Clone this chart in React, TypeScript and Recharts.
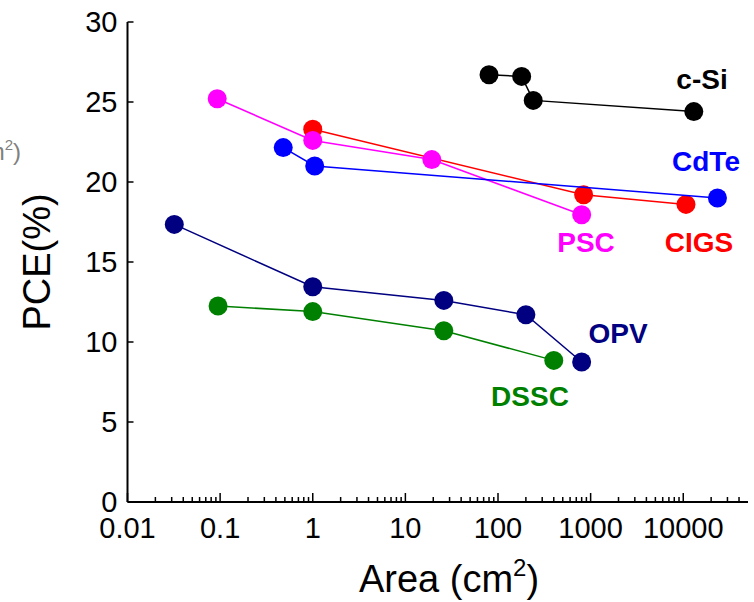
import { Scatter, ScatterChart, XAxis, YAxis } from "recharts";

// PCE vs device area for each PV technology
const cSiArea = [80, 180, 240, 13000];
const cSiPce = [26.7, 26.6, 25.1, 24.4];

const cigsArea = [1, 840, 10700];
const cigsPce = [23.3, 19.2, 18.6];

const pscArea = [0.093, 1, 19.3, 800];
const pscPce = [25.2, 22.6, 21.4, 17.95];

const cdteArea = [0.48, 1.05, 23400];
const cdtePce = [22.15, 21.0, 19.0];

const opvArea = [0.032, 1, 26, 200, 800];
const opvPce = [17.35, 13.45, 12.6, 11.7, 8.75];

const dsscArea = [0.095, 1, 26, 400];
const dsscPce = [12.25, 11.9, 10.7, 8.85];

const xMajorTicks = [0.01, 0.1, 1, 10, 100, 1000, 10000];
const xMinorSteps = [2, 3, 4, 5, 6, 7, 8, 9];
const yTicks = [0, 5, 10, 15, 20, 25, 30];

const FONT = "'Liberation Sans', Arial, Helvetica, sans-serif";
const xDomain = [0.01, 50000];

const toPoints = (xs: number[], ys: number[]) =>
  xs.map((x, i) => ({ area: x, pce: ys[i] }));

const series = [
  { name: "c-Si", color: "#000000", data: toPoints(cSiArea, cSiPce) },
  { name: "CIGS", color: "#ff0000", data: toPoints(cigsArea, cigsPce) },
  { name: "PSC", color: "#ff00ff", data: toPoints(pscArea, pscPce) },
  { name: "CdTe", color: "#0000ff", data: toPoints(cdteArea, cdtePce) },
  { name: "OPV", color: "#000080", data: toPoints(opvArea, opvPce) },
  { name: "DSSC", color: "#008000", data: toPoints(dsscArea, dsscPce) },
];

// majors plus 2..9 of each decade, clipped to the axis range
const xAllTicks = [
  ...xMajorTicks,
  ...xMajorTicks.flatMap((d) =>
    xMinorSteps.map((k) => d * k).filter((v) => v < xDomain[1] * 0.95)
  ),
].sort((a, b) => a - b);

const isMajor = (v: number) => xMajorTicks.some((m) => Math.abs(m - v) < m * 1e-6);

const BottomTick = ({ x, y, payload }: any) => {
  const v = payload.value;
  const major = isMajor(v);
  return (
    <g>
      <line x1={x} x2={x} y1={y} y2={y - (major ? 9 : 5)} stroke="#000" strokeWidth={1.5} />
      {major && (
        <text x={x} y={y + 36} textAnchor="middle" fontSize={29} fontFamily={FONT} fill="#000">
          {String(v)}
        </text>
      )}
    </g>
  );
};

const TopTick = ({ x, y, payload }: any) => {
  const major = isMajor(payload.value);
  return (
    <line x1={x} x2={x} y1={y} y2={y + (major ? 9 : 5)} stroke="#000" strokeWidth={1.5} />
  );
};

const LeftTick = ({ x, y, payload }: any) => (
  <g>
    <line x1={x} x2={x + 6} y1={y} y2={y} stroke="#000" strokeWidth={1.5} />
    <text x={x - 10} y={y + 10} textAnchor="end" fontSize={29} fontFamily={FONT} fill="#000">
      {payload.value}
    </text>
  </g>
);

const groupLabels = [
  { text: "c-Si", color: "#000000", x: 702, y: 89 },
  { text: "CdTe", color: "#0000ff", x: 706, y: 171 },
  { text: "PSC", color: "#ff00ff", x: 586, y: 252 },
  { text: "CIGS", color: "#ff0000", x: 699, y: 252 },
  { text: "OPV", color: "#000080", x: 618, y: 343 },
  { text: "DSSC", color: "#008000", x: 530, y: 406 },
];

export default function App() {
  return (
    <div style={{ position: "absolute", left: 0, top: 0, background: "#fff" }}>
      <ScatterChart width={754} height={602} margin={{ top: 22, right: 6, bottom: 0, left: 0 }}>
        <XAxis
          dataKey="area"
          type="number"
          scale="log"
          domain={xDomain}
          allowDataOverflow
          ticks={xAllTicks}
          interval={0}
          height={100}
          tickSize={0}
          tickMargin={0}
          tickLine={false}
          tick={<BottomTick />}
          axisLine={{ stroke: "#000", strokeWidth: 2 }}
        />
        <XAxis
          xAxisId="top"
          orientation="top"
          dataKey="area"
          type="number"
          scale="log"
          domain={xDomain}
          allowDataOverflow
          ticks={xAllTicks}
          interval={0}
          height={0}
          tickSize={0}
          tickMargin={0}
          tickLine={false}
          tick={<TopTick />}
          axisLine={{ stroke: "#000", strokeWidth: 2 }}
        />
        <YAxis
          dataKey="pce"
          type="number"
          domain={[0, 30]}
          ticks={yTicks}
          interval={0}
          width={127.5}
          tickSize={0}
          tickMargin={0}
          tickLine={false}
          tick={<LeftTick />}
          axisLine={{ stroke: "#000", strokeWidth: 2 }}
        />
        {series.map((s) => (
          <Scatter
            key={s.name}
            name={s.name}
            data={s.data}
            fill={s.color}
            line={{ stroke: s.color, strokeWidth: 1.5 }}
            lineType="joint"
            isAnimationActive={false}
            shape={(p: any) => <circle cx={p.cx} cy={p.cy} r={9.5} fill={s.color} />}
          />
        ))}

        {groupLabels.map((l) => (
          <text
            key={l.text}
            x={l.x}
            y={l.y}
            textAnchor="middle"
            fontSize={28}
            fontWeight="bold"
            fontFamily={FONT}
            fill={l.color}
          >
            {l.text}
          </text>
        ))}

        <text
          x={37}
          y={262}
          transform="rotate(-90 37 262)"
          dominantBaseline="central"
          textAnchor="middle"
          fontSize={38}
          fontFamily={FONT}
          fill="#000"
        >
          PCE(%)
        </text>
        <text x={449} y={592} textAnchor="middle" fontSize={38} fontFamily={FONT} fill="#000">
          Area (cm
          <tspan fontSize={24} dy={-16}>2</tspan>
          <tspan dy={16}>)</tspan>
        </text>

        {/* clipped caption from the neighbouring panel */}
        <text x={21} y={160} textAnchor="end" fontSize={24} fontFamily={FONT} fill="#808080">
          Area (cm
          <tspan fontSize={15} dy={-10}>2</tspan>
          <tspan dy={10}>)</tspan>
        </text>
      </ScatterChart>
    </div>
  );
}
